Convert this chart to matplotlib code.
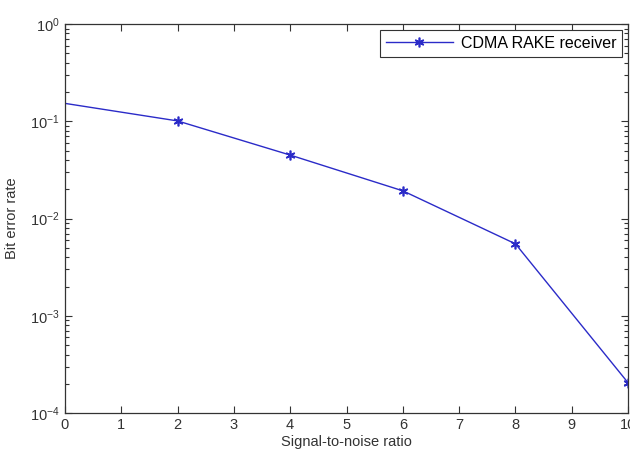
import numpy as np
import matplotlib
matplotlib.use("Agg")
import matplotlib.pyplot as plt
from matplotlib.ticker import LogLocator, NullFormatter

snr = [0, 2, 4, 6, 8, 10]
ber = [0.153, 0.101, 0.045, 0.0193, 0.0055, 0.000205]
series_label = "CDMA RAKE receiver"

plt.rcParams['font.family'] = ['Liberation Sans', 'DejaVu Sans']

fig = plt.figure(figsize=(6.3, 4.54), dpi=100)
ax = fig.add_axes([0.103, 0.090, 0.894, 0.857])

# matlab style asterisk marker, none on the first point
ax.semilogy(snr, ber, color='#2b2bc8', lw=1.0, marker=(6, 2, 0), ms=7, mew=1.2,
            markevery=list(range(1, len(snr))), label=series_label)

ax.set_xlim(0, 10)
ax.set_ylim(1e-4, 1)
ax.set_xticks(np.arange(0, 11, 1))
ax.yaxis.set_major_locator(LogLocator(base=10, numticks=10))
ax.yaxis.set_minor_locator(LogLocator(base=10, subs=np.arange(2, 10), numticks=10))
ax.yaxis.set_minor_formatter(NullFormatter())

ax.tick_params(which='both', direction='in', top=True, right=True,
               labelsize=10.5, colors='#333333', width=0.8)
ax.tick_params(which='major', length=5)
ax.tick_params(which='minor', length=3)
for s in ax.spines.values():
    s.set_color('#333333')
    s.set_linewidth(0.9)

ax.set_xlabel("Signal-to-noise ratio", fontsize=10.5, color='#333333', labelpad=2)
ax.set_ylabel("Bit error rate", fontsize=10.5, color='#333333', labelpad=8)

leg = ax.legend(loc='upper right', fontsize=11.5, fancybox=False, framealpha=1,
                edgecolor='#333333', borderaxespad=0.4, handlelength=4.2,
                borderpad=0.35, handletextpad=0.5)
leg.get_frame().set_linewidth(0.8)

fig.savefig("out.png", dpi=100)
